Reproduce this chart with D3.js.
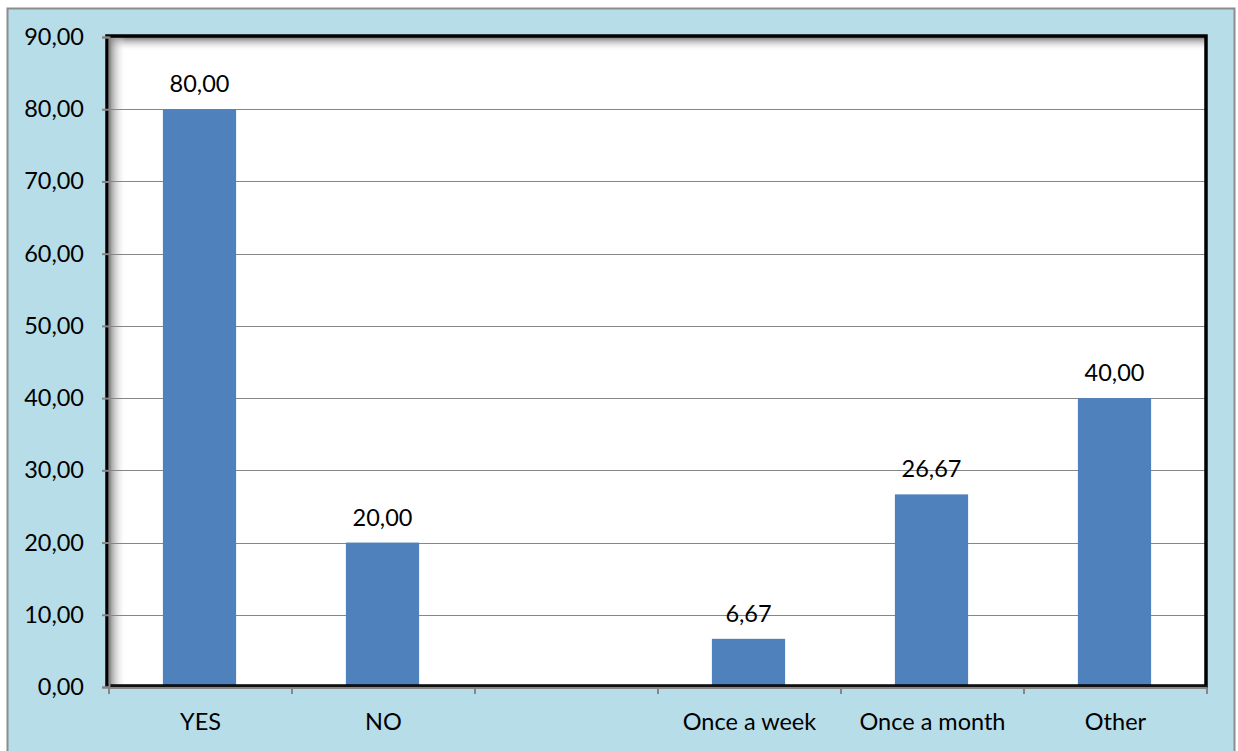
<!DOCTYPE html>
<html>
<head>
<meta charset="utf-8">
<script src="https://cdn.jsdelivr.net/npm/d3@7/dist/d3.min.js"></script>
<style>
html,body{margin:0;padding:0;background:#fff;}
text{font-family:Lato,"Open Sans",sans-serif;fill:#000;}
</style>
</head>
<body>
<svg id="chart" width="1238" height="751"></svg>
<script>
const categories = ["YES", "NO", "", "Once a week", "Once a month", "Other"];
const values = [80, 20, null, 6.67, 26.67, 40];
const yTicks = [0, 10, 20, 30, 40, 50, 60, 70, 80, 90];

(function () {
const pL = 108, pR = 1206, pT = 37, pB = 687;
const fs = "23.5px";
const svg = d3.select("#chart");
const fmt = v => d3.format(".2f")(v).replace(".", ",");

// outer chart area
svg.append("rect").attr("x", 7.5).attr("y", 8.5).attr("width", 1227).attr("height", 760)
  .attr("fill", "#B7DDE8").attr("stroke", "#8c8c8c").attr("stroke-width", 2);

const x = d3.scaleBand().domain(categories.map((c, i) => i)).range([pL, pR]).paddingInner(0.6).paddingOuter(0.3);
const xSlot = d3.scaleBand().domain(categories.map((c, i) => i)).range([pL, pR]);
const y = d3.scaleLinear().domain([0, 90]).range([pB, pT]);

const defs = svg.append("defs");
const gTop = defs.append("linearGradient").attr("id", "shTop").attr("x1", 0).attr("y1", 0).attr("x2", 0).attr("y2", 1);
gTop.append("stop").attr("offset", 0).attr("stop-color", "#777");
gTop.append("stop").attr("offset", 1).attr("stop-color", "#fff").attr("stop-opacity", 0);
const gLeft = defs.append("linearGradient").attr("id", "shLeft").attr("x1", 0).attr("y1", 0).attr("x2", 1).attr("y2", 0);
gLeft.append("stop").attr("offset", 0).attr("stop-color", "#777");
gLeft.append("stop").attr("offset", 1).attr("stop-color", "#fff").attr("stop-opacity", 0);

// plot area
svg.append("rect").attr("x", pL).attr("y", pT).attr("width", pR - pL).attr("height", pB - pT).attr("fill", "#fff");
svg.append("rect").attr("x", pL).attr("y", pT).attr("width", pR - pL).attr("height", 14).attr("fill", "url(#shTop)");
svg.append("rect").attr("x", pL).attr("y", pT).attr("width", 18).attr("height", pB - pT).attr("fill", "url(#shLeft)");

// gridlines
svg.append("g").selectAll("line").data(yTicks.filter(t => t > 0 && t < 90)).join("line")
  .attr("x1", pL).attr("x2", pR).attr("y1", d => Math.round(y(d)) + 0.5).attr("y2", d => Math.round(y(d)) + 0.5)
  .attr("stroke", "#868686").attr("stroke-width", 1);

// bars
svg.append("g").selectAll("rect").data(values.map((v, i) => ({v, i})).filter(d => d.v != null)).join("rect")
  .attr("x", d => x(d.i)).attr("width", x.bandwidth())
  .attr("y", d => y(d.v)).attr("height", d => y(0) - y(d.v))
  .attr("fill", "#4F81BD");

// frame
svg.append("path").attr("d", `M${pL - 1},${pB - 1} L${pL - 1},${pT - 1} L${pR},${pT - 1} L${pR},${pB - 1} Z`)
  .attr("fill", "none").attr("stroke", "#000").attr("stroke-width", 3.5);
svg.append("line").attr("x1", pL - 2).attr("x2", pR + 1).attr("y1", pB - 1).attr("y2", pB - 1)
  .attr("stroke", "#111").attr("stroke-width", 2);

// y axis
const yAxis = svg.append("g").attr("transform", `translate(${pL + 1},0)`)
  .call(d3.axisLeft(y).tickValues(yTicks).tickFormat(fmt).tickSize(7).tickPadding(18));
yAxis.select(".domain").attr("stroke", "#868686").attr("stroke-width", 2);
yAxis.selectAll(".tick line").attr("stroke", "#868686").attr("stroke-width", 2);
yAxis.selectAll("text").style("font-size", fs).attr("fill", "#000");

// x axis
const xAxis = svg.append("g").attr("transform", `translate(0,${pB + 1})`)
  .call(d3.axisBottom(xSlot).tickValues([]).tickSize(0));
xAxis.select(".domain").attr("stroke", "#868686").attr("stroke-width", 2).attr("d", `M${pL + 1},0H${pR + 1}`);
const bounds = d3.range(categories.length + 1).map(i => pL + 1 + i * xSlot.step());
xAxis.selectAll("line.b").data(bounds).join("line").attr("class", "b")
  .attr("x1", d => d).attr("x2", d => d).attr("y1", 0).attr("y2", 6)
  .attr("stroke", "#868686").attr("stroke-width", 2);
xAxis.selectAll("text.c").data(categories).join("text").attr("class", "c")
  .attr("x", (d, i) => xSlot(i) + xSlot.bandwidth() / 2 + 1).attr("y", 42)
  .attr("text-anchor", "middle").style("font-size", fs).text(d => d);

// data labels
svg.append("g").selectAll("text").data(values.map((v, i) => ({v, i})).filter(d => d.v != null)).join("text")
  .attr("x", d => x(d.i) + x.bandwidth() / 2).attr("y", d => y(d.v) - 17)
  .attr("text-anchor", "middle").style("font-size", fs).text(d => fmt(d.v));
})();
</script>
</body>
</html>
